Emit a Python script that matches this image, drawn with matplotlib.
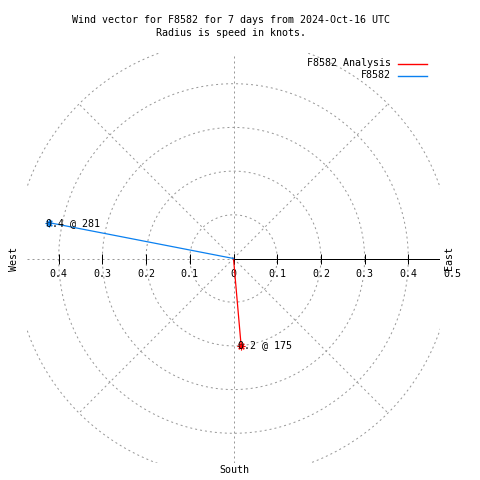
import numpy as np
import matplotlib
matplotlib.use("Agg")
import matplotlib.pyplot as plt
from matplotlib.lines import Line2D

# ---- data ----
series_names = ["F8582 Analysis", "F8582"]
speeds_kt = [0.2, 0.43]          # radius = speed in knots
bearings_deg = [175, 281]        # compass bearing
series_colors = ["#ff0000", "#0a80f0"]
ring_values = [0.1, 0.2, 0.3, 0.4, 0.5]
tick_values = [0.0, 0.1, 0.2, 0.3, 0.4]
right_tick_labels = ["0", "0.1", "0.2", "0.3", "0.4", "0.5"]
left_tick_labels = ["0", "0.1", "0.2", "0.3", "0.4"]
title_lines = ["Wind vector for F8582 for 7 days from 2024-Oct-16 UTC",
               "Radius is speed in knots."]

# ---- layout ----
W = H = 480
DPI = 100
S = 437.0            # pixels per knot
CX, CY = 233.5, 258.5
L, R, T, B = 27, 440, 53, 463
FONT = "DejaVu Sans Mono"
FS = 7.2
GRID = "#999999"
LW = 0.72

fig = plt.figure(figsize=(W / DPI, H / DPI), dpi=DPI)
ax = fig.add_axes([L / W, 1 - B / H, (R - L) / W, (B - T) / H])
ax.set_xlim((L - CX) / S, (R - CX) / S)
ax.set_ylim(-(B - CY) / S, (CY - T) / S)
ax.axis("off")

dash = (0, (2, 3))
# rings
t = np.linspace(0, 2 * np.pi, 721)
for r in ring_values:
    ax.plot(r * np.cos(t), r * np.sin(t), color=GRID, lw=LW, ls=dash)
# diagonal spokes
for a in [45, 135, 225, 315]:
    rr = ring_values[-1]
    ax.plot([0, rr * np.sin(np.radians(a))], [0, rr * np.cos(np.radians(a))],
            color=GRID, lw=LW, ls=dash)
# vertical & left horizontal grid
ylo, yhi = ax.get_ylim()
xlo, xhi = ax.get_xlim()
ax.plot([0, 0], [ylo, yhi], color=GRID, lw=LW, ls=dash)
ax.plot([xlo, 0], [0, 0], color=GRID, lw=LW, ls=dash)
# right solid axis
ax.plot([0, xhi], [0, 0], color="black", lw=LW)
# ticks
tv = np.array(tick_values)
ax.plot(np.concatenate([tv, -tv]), np.zeros(2 * len(tv)), ls="none",
        marker="|", ms=6.5, mew=LW, color="black")

# tick labels
ylab = -15.5 / S
for i, lab in enumerate(right_tick_labels):
    ax.text(i * 0.1, ylab, lab, ha="center", va="center", family=FONT,
            fontsize=FS, clip_on=False)
for i, lab in enumerate(left_tick_labels):
    if i == 0:
        continue
    ax.text(-i * 0.1, ylab, lab, ha="center", va="center", family=FONT,
            fontsize=FS, clip_on=False)

# data vectors
for name, sp, br, c in zip(series_names, speeds_kt, bearings_deg, series_colors):
    x = sp * np.sin(np.radians(br))
    y = sp * np.cos(np.radians(br))
    ax.plot([0, x], [0, y], color=c, lw=0.9, zorder=5)
    ax.plot([x], [y], ls="none", marker=(8, 2, 0), ms=5.5, mew=0.8,
            color=c, zorder=6, clip_on=False)
    ax.text(x - 3 / S, y, f"{sp:.1f} @ {br}", ha="left", va="center",
            family=FONT, fontsize=FS, zorder=7)

# direction labels
fig.text(449 / W, 1 - 258 / H, "East", rotation=90, ha="center", va="center",
         family=FONT, fontsize=FS)
fig.text(14 / W, 1 - 259 / H, "West", rotation=90, ha="center", va="center",
         family=FONT, fontsize=FS)
fig.text(234 / W, 1 - 470 / H, "South", ha="center", va="center",
         family=FONT, fontsize=FS)

# title
fig.text(231 / W, 1 - 20 / H, title_lines[0], ha="center", va="center",
         family=FONT, fontsize=FS)
fig.text(231 / W, 1 - 33.3 / H, title_lines[1], ha="center", va="center",
         family=FONT, fontsize=FS)

# legend (text, then line sample to its right)
for k, (name, c) in enumerate(zip(series_names, series_colors)):
    yy = 1 - (63.5 + 12 * k) / H
    fig.text(391 / W, yy, name, ha="right", va="center", family=FONT,
             fontsize=FS)
    fig.add_artist(Line2D([398 / W, 427 / W], [yy, yy], color=c, lw=1.0,
                          transform=fig.transFigure, zorder=10))

fig.savefig("out.png", dpi=DPI)
